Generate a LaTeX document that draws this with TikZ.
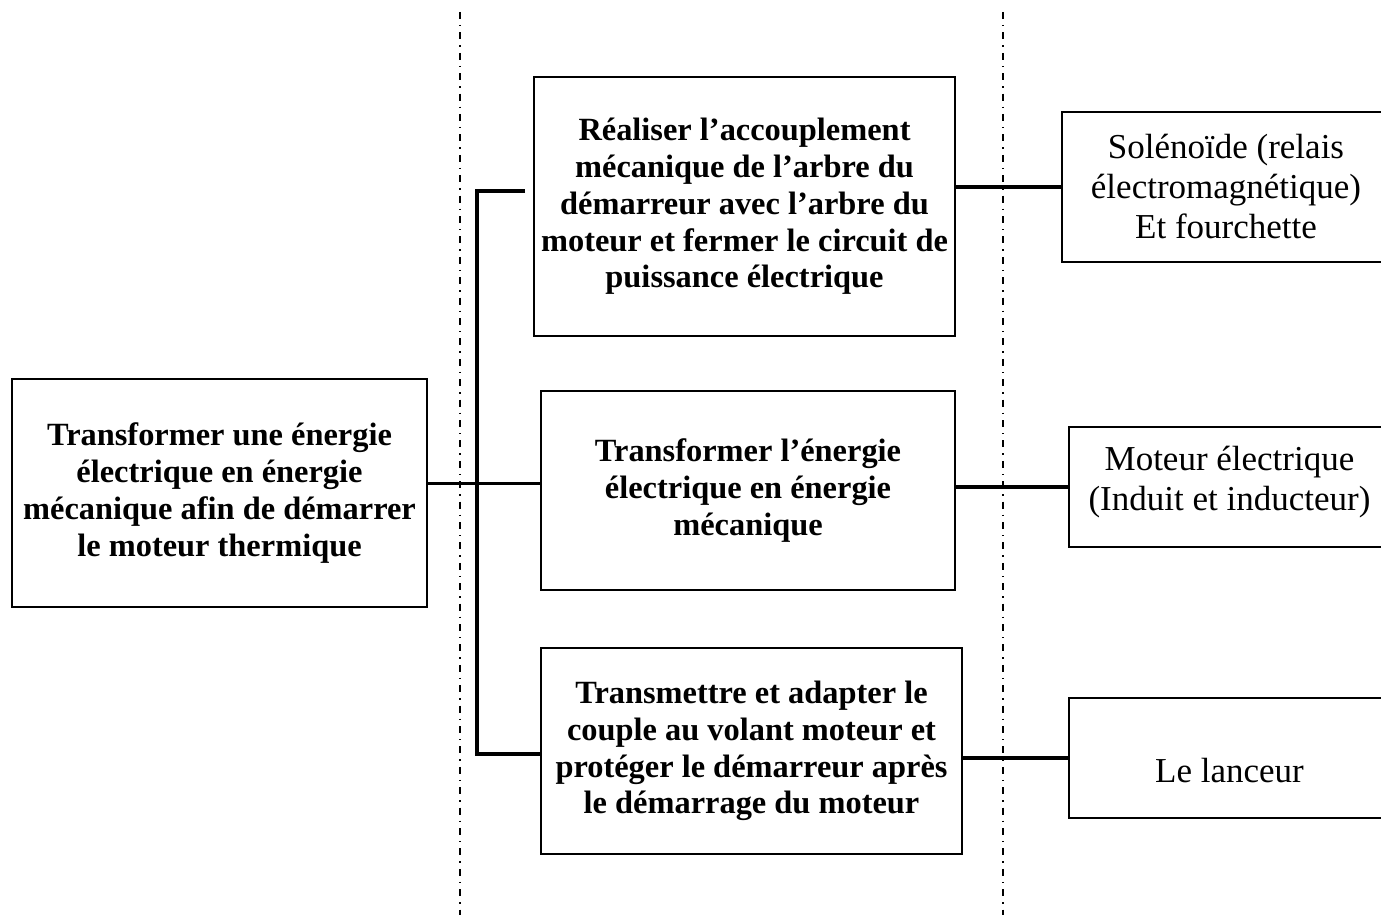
\documentclass[tikz,border=0pt]{standalone}
\usepackage{fontspec}
\setmainfont{Liberation Serif}
\tikzset{
  fct/.style={draw,line width=1pt,align=center,inner sep=0pt,font=\fontsize{16.2}{18.4}\selectfont\bfseries},
  sol/.style={draw,line width=1pt,align=center,inner sep=0pt,font=\fontsize{17.5}{20}\selectfont},
  conn/.style={line width=1.7pt},
  sep/.style={line width=0.8pt,dash pattern=on 3.5pt off 3pt on 0.7pt off 3pt}
}
\begin{document}
\begin{tikzpicture}[x=0.5pt,y=-0.5pt]
\useasboundingbox (0,0) rectangle (1381,915);

  \draw[sep] (460,12)--(460,915);
  \draw[sep] (1003,12)--(1003,915);

\node[fct,minimum width=207.5pt,minimum height=114pt] (main) at (219.5,493)
  {Transformer une énergie\\électrique en énergie\\mécanique afin de démarrer\\le moteur thermique};

\node[fct,minimum width=210.5pt,minimum height=129.5pt] (fa) at (744.5,206.5)
  {Réaliser l’accouplement\\mécanique de l’arbre du\\démarreur avec l’arbre du\\moteur et fermer le circuit de\\puissance électrique};
\node[fct,minimum width=207pt,minimum height=99.5pt] (fb) at (748,490.5)
  {Transformer l’énergie\\électrique en énergie\\mécanique};
\node[fct,minimum width=210.5pt,minimum height=103pt] (fc) at (751.5,751)
  {Transmettre et adapter le\\couple au volant moteur et\\protéger le démarreur après\\le démarrage du moteur};

\node[sol,minimum width=164pt,minimum height=75pt] (sa) at (1226,187)
  {Solénoïde (relais\\électromagnétique)\\Et fourchette};
\node[sol,minimum width=160.5pt,minimum height=60pt,text depth=9pt] (sb) at (1229.5,487)
  {Moteur électrique\\(Induit et inducteur)};
\node[sol,minimum width=160.5pt,minimum height=60pt,text height=24pt,text depth=0pt] (sc) at (1229.5,758)
  {Le lanceur};

% tree
\coordinate (tTop) at (477,191);
\coordinate (tBot) at (477,754);
\draw[conn] ([yshift=3.5pt]main.east |- fb.west) -- ([yshift=3.5pt]fb.west);
\draw[conn] ([xshift=-4pt]fa.west |- tTop) -- (tTop) -- (tBot) -- (fc.west |- tBot);

\draw[conn] (fa.east |- sa.west) -- (sa.west);
\draw[conn] (fb.east |- sb.west) -- (sb.west);
\draw[conn] (fc.east |- sc.west) -- (sc.west);

\end{tikzpicture}
\end{document}
